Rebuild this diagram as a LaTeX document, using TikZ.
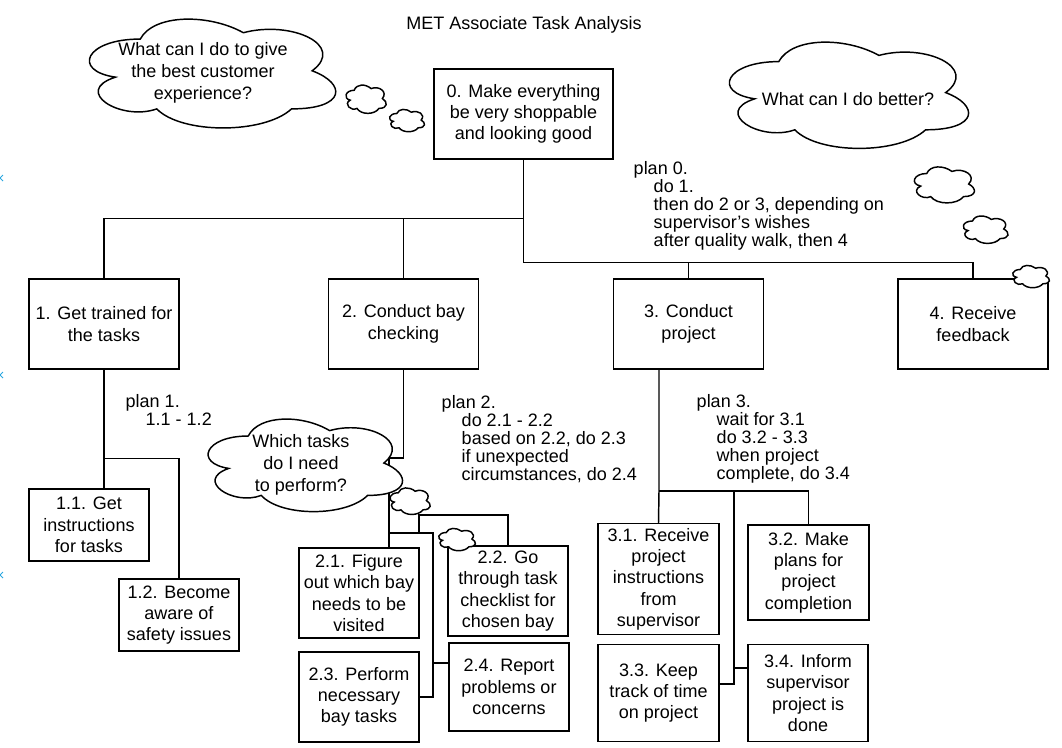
\documentclass[tikz,border=0pt]{standalone}
\usepackage{fontspec}
\setmainfont{Liberation Sans}
\usepackage{xcolor}
\definecolor{guideblue}{HTML}{2AA7E0}

% cloud outline: name, left, top, width, height (picture units)
\newcommand{\thoughtcloud}[5]{%
  \begin{scope}[shift={(#2,#3)}, x=#4*0.75pt, y=-#5*0.75pt]
    \path[cloudline] (0.25,0.25) .. controls (0.05,0.25) and (0,0.5) .. (0.16,0.55)
      .. controls (0,0.66) and (0.18,0.9) .. (0.31,0.8)
      .. controls (0.4,1) and (0.7,1) .. (0.8,0.8)
      .. controls (1,0.8) and (1,0.6) .. (0.875,0.5)
      .. controls (1,0.3) and (0.8,0.1) .. (0.625,0.2)
      .. controls (0.5,0.05) and (0.3,0.05) .. (0.25,0.25) -- cycle;
    \coordinate (#1) at (0.5,0.5);
  \end{scope}}

\begin{document}
\begin{tikzpicture}[x=0.75pt, y=-0.75pt, line width=1.1pt,
    task/.style={draw, fill=white, align=center, inner sep=1pt, font=\fontsize{13.5}{16}\selectfont},
    topbox/.style={task, minimum width=112.5pt, minimum height=67.5pt},
    subbox/.style={task, minimum width=90pt},
    plan/.style={anchor=north west, align=left, inner sep=0pt, font=\fontsize{13.5}{13.5}\selectfont},
    say/.style={align=center, inner sep=0pt, font=\fontsize{13.5}{16.5}\selectfont},
    cloudline/.style={draw, fill=white},
    bluex/.style={draw=guideblue, line width=0.6pt}]
    \useasboundingbox (0,0) rectangle (1062,747);

    \node[say] (title) at (524,25) {MET Associate Task Analysis};
    \foreach \y in {178,375,575}
        \draw[bluex] (-3,\y-3) -- (3,\y+3) (-3,\y+3) -- (3,\y-3);

    % goal and first level
    \node[task, minimum width=134.25pt, minimum height=67.5pt] (t0) at (523.5,114) {0. Make everything\\be very shoppable\\and looking good};
    \node[topbox] (t1) at (104,324) {1. Get trained for\\the tasks};
    \node[topbox] (t2) at (403.5,324) {2. Conduct bay\\checking};
    \node[topbox] (t3) at (688.5,324) {3. Conduct\\project};
    \node[topbox] (t4) at (973,324) {4. Receive\\feedback};

    \draw (t0.south) -- ++(0,59) -| (t1.north);
    \draw (t0.south) -- ++(0,59) -| (t2.north);
    \draw (t0.south) -- ++(0,103) -| (t3.north);
    \draw (t0.south) -- ++(0,103) -| (t4.north);

    \node[plan] (plan0) at (633,161) {plan 0.\\\hspace*{15pt}do 1.\\\hspace*{15pt}then do 2 or 3, depending on\\\hspace*{15pt}supervisor's wishes\\\hspace*{15pt}after quality walk, then 4};

    % subtasks of 1
    \node[subbox, minimum height=54pt] (t11) at (89,525) {1.1. Get\\instructions\\for tasks};
    \node[subbox, minimum height=54pt] (t12) at (179,615) {1.2. Become\\aware of\\safety issues};
    \draw (t1.south) -- (t1.south |- t11.north);
    \draw (t1.south) -- ++(0,89) -| (t12.north);
    \node[plan] (plan1) at (125,394) {plan 1.\\\hspace*{15pt}1.1 - 1.2};

    % subtasks of 2
    \node[subbox, minimum height=67.5pt] (t21) at (359,593) {2.1. Figure\\out which bay\\needs to be\\visited};
    \node[subbox, minimum height=67.5pt] (t22) at (508,591) {2.2. Go\\through task\\checklist for\\chosen bay};
    \node[subbox, minimum height=67.5pt] (t23) at (359,697) {2.3. Perform\\necessary\\bay tasks};
    \node[subbox, minimum height=66pt] (t24) at (509,687) {2.4. Report\\problems or\\concerns};
    \coordinate (bus2) at (389,458);
    \draw (t2.south) |- (bus2) -- (bus2 |- t21.north);
    \draw (bus2) |- (419,533) -- (419,515) -| (t22.north);
    \draw (bus2) |- (433,533) |- (t23.east);
    \draw (433,663) -- (t24.west |- 433,663);
    \node[plan] (plan2) at (441,395) {plan 2.\\\hspace*{15pt}do 2.1 - 2.2\\\hspace*{15pt}based on 2.2, do 2.3\\\hspace*{15pt}if unexpected\\\hspace*{15pt}circumstances, do 2.4};

    % subtasks of 3
    \node[subbox, minimum width=90.75pt, minimum height=83.25pt] (t31) at (658.5,579) {3.1. Receive\\project\\instructions\\from\\supervisor};
    \node[subbox, minimum width=90.75pt, minimum height=71.25pt] (t32) at (808.5,572.5) {3.2. Make\\plans for\\project\\completion};
    \node[subbox, minimum width=90.75pt, minimum height=72.75pt] (t33) at (658.5,693) {3.3. Keep\\track of time\\on project};
    \node[subbox, minimum height=72.75pt] (t34) at (808,693) {3.4. Inform\\supervisor\\project is\\done};
    \coordinate (bus3) at (659,491);
    \draw (t3.south -| bus3) -- (bus3) -- (t31.north);
    \draw (bus3) -| (t32.north);
    \draw (734,491) |- (t33.east |- 734,684);
    \draw (734,668) -- (t34.west |- 734,668);
    \node[plan] (plan3) at (696,394) {plan 3.\\\hspace*{15pt}wait for 3.1\\\hspace*{15pt}do 3.2 - 3.3\\\hspace*{15pt}when project\\\hspace*{15pt}complete, do 3.4};

    % thought clouds
    \thoughtcloud{cbest}{71.5}{7.3}{275}{127}
    \node[say] (qbest) at (203,73) {What can I do to give\\the best customer\\experience?};
    \thoughtcloud{cbetter}{712}{30.6}{267}{124}
    \node[say] (qbetter) at (848,99) {What can I do better?};
    \thoughtcloud{cwhich}{194}{409}{217}{108}
    \node[say] (qwhich) at (301,465) {Which tasks\\do I need\\to perform?};
    \thoughtcloud{s1}{343}{82}{45}{33}
    \thoughtcloud{s2}{387}{107}{39}{26}
    \thoughtcloud{s3}{387}{485}{45}{31}
    \thoughtcloud{s4}{436}{526}{41}{26}
    \thoughtcloud{s5}{910}{163}{67}{42}
    \thoughtcloud{s6}{960}{213}{50}{32}
    \thoughtcloud{s7}{1010}{263}{41}{26}
\end{tikzpicture}
\end{document}
